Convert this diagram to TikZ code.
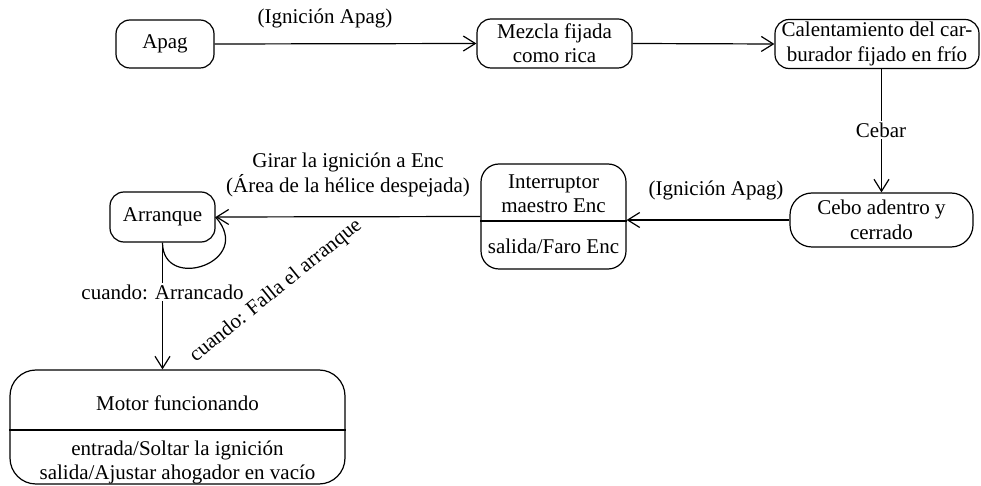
\documentclass[tikz,border=0pt]{standalone}
\usepackage{fontspec}
\setmainfont{Liberation Serif}
\usetikzlibrary{arrows.meta,calc}
\begin{document}
\begin{tikzpicture}[x=0.5pt,y=-0.5pt,
  font=\fontsize{10.5}{12.2}\selectfont, line width=0.6pt,
  state/.style={draw, rounded corners=7pt, inner sep=0pt, align=center},
  arr/.style={-{Straight Barb[length=6pt,width=7.5pt]}},
  lbl/.style={inner sep=1pt, align=center}]
\useasboundingbox (0,0) rectangle (981,486);

% states
\node[state, minimum width=49pt, minimum height=24pt] (apag) at (165,44) {Apag};
\node[state, minimum width=77.5pt, minimum height=24.5pt] (mezcla) at (554.5,43.5) {Mezcla fijada\\como rica};
\node[state, minimum width=102pt, minimum height=24.5pt] (calent) at (877,44) {Calentamiento del car-\\burador fijado en frío};
\node[state, rounded corners=11pt, minimum width=91.5pt, minimum height=27pt] (cebo) at (881.5,220) {Cebo adentro y\\cerrado};
\node[state, rounded corners=9pt, minimum width=72.5pt, minimum height=52.5pt] (interr) at (553.5,216.5) {};
\node[lbl] (interrA) at (553.5,193.5) {Interruptor\\maestro Enc};
\node[lbl] (interrB) at (553.5,246) {salida/Faro Enc};
\draw (interr.west |- 0,221) coordinate (idl) -- (interr.east |- 0,221) coordinate (idr);
\node[state, minimum width=52.5pt, minimum height=25pt] (arranque) at (162.5,217) {Arranque};
\node[state, rounded corners=13pt, minimum width=167.5pt, minimum height=57pt] (motor) at (177.5,427) {};
\node[lbl] (motorA) at (177.5,403) {Motor funcionando};
\node[lbl] (motorB) at (177.5,462.5) {entrada/Soltar la ignición\\salida/Ajustar ahogador en vacío};
\draw (motor.west |- 0,430) coordinate (mdl) -- (motor.east |- 0,430) coordinate (mdr);

% transitions
\draw[arr] (apag.east) -- (mezcla.west);
\draw[arr] (mezcla.east) -- (calent.west);
\draw[arr] (cebo.north |- calent.south) -- (cebo.north);
\draw[arr] (cebo.west) -- (cebo.west -| interr.east);
\draw[arr] (interr.west) -- (arranque.east);
\draw[arr] (arranque.south) -- (arranque.south |- motor.north);
\draw (arranque.south) .. controls ($(arranque.south)+(0,50)$) and ($(arranque.east)+(40,45)$) .. (arranque.east);

% labels
\node[lbl] (l1) at (325,18) {(Ignición Apag)};
\node[lbl, fill=white] (l2) at (881,130) {Cebar};
\node[lbl] (l3) at (716,190) {(Ignición Apag)};
\node[lbl] (l4) at (348,175) {Girar la ignición a Enc\\(Área de la hélice despejada)};
\node[lbl, fill=white] (l5) at (162.5,292) {cuando: Arrancado};
\node[lbl, rotate=39] (l6) at (276,291) {cuando: Falla el arranque};
\end{tikzpicture}
\end{document}
